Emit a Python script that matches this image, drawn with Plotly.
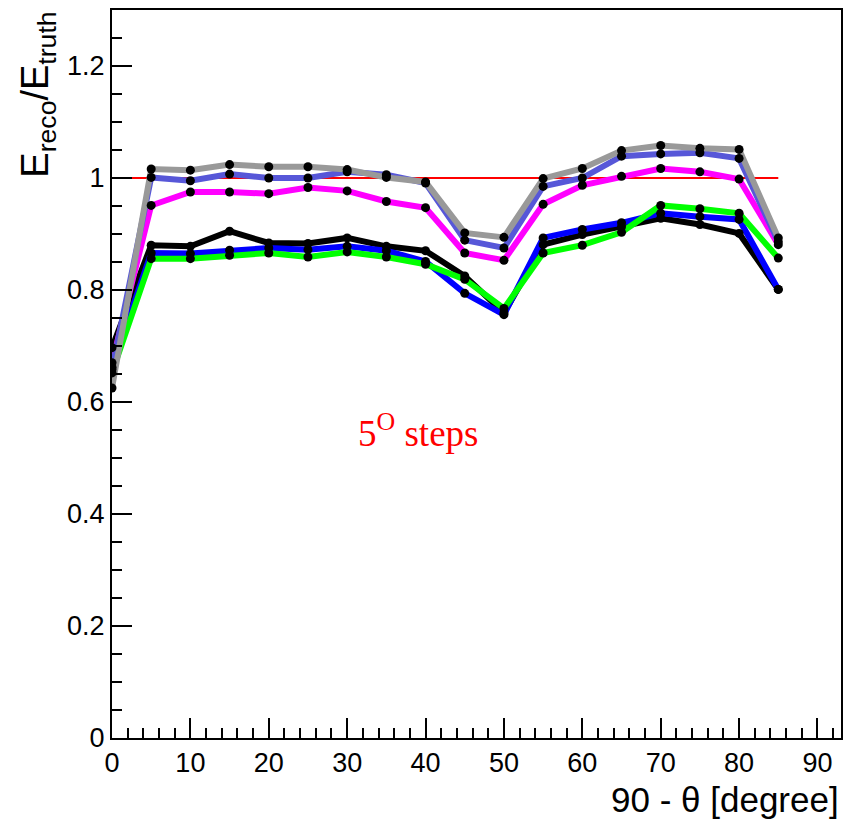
import plotly.graph_objects as go

angles = [0, 5, 10, 15, 20, 25, 30, 35, 40, 45, 50, 55, 60, 65, 70, 75, 80, 85]

gray_vals = [0.625, 1.016, 1.014, 1.024, 1.020, 1.020, 1.015, 1.001, 0.993, 0.902, 0.894, 0.999, 1.017, 1.049, 1.058, 1.053, 1.051, 0.893]
slate_vals = [0.658, 1.001, 0.995, 1.007, 1.000, 1.000, 1.011, 1.006, 0.991, 0.889, 0.875, 0.985, 1.000, 1.039, 1.043, 1.045, 1.035, 0.886]
magenta_vals = [0.670, 0.951, 0.975, 0.975, 0.972, 0.983, 0.977, 0.958, 0.947, 0.866, 0.853, 0.953, 0.987, 1.003, 1.017, 1.011, 0.998, 0.881]
black_vals = [0.697, 0.880, 0.878, 0.905, 0.884, 0.883, 0.893, 0.878, 0.870, 0.825, 0.759, 0.881, 0.899, 0.913, 0.928, 0.917, 0.901, 0.801]
blue_vals = [0.662, 0.866, 0.865, 0.871, 0.875, 0.872, 0.878, 0.870, 0.851, 0.794, 0.756, 0.893, 0.908, 0.920, 0.937, 0.931, 0.926, 0.801]
green_vals = [0.652, 0.856, 0.856, 0.862, 0.866, 0.859, 0.868, 0.859, 0.846, 0.819, 0.767, 0.866, 0.880, 0.903, 0.951, 0.945, 0.937, 0.857]

ref_x = [0, 85]
ref_y = [1.0, 1.0]

series = [
    ("black", black_vals, "#000000"),
    ("blue", blue_vals, "#0000ff"),
    ("green", green_vals, "#00ff00"),
    ("magenta", magenta_vals, "#ff00ff"),
    ("slate", slate_vals, "#5757d8"),
    ("gray", gray_vals, "#999999"),
]

fig = go.Figure()
fig.add_trace(go.Scatter(x=ref_x, y=ref_y, mode="lines",
                         line=dict(color="#ff0000", width=2), showlegend=False))
for name, vals, col in series:
    fig.add_trace(go.Scatter(x=angles, y=vals, mode="lines", name=name,
                             line=dict(color=col, width=6), showlegend=False))
for name, vals, col in series:
    fig.add_trace(go.Scatter(x=angles, y=vals, mode="markers",
                             marker=dict(color="black", size=9), showlegend=False))

axis_font = dict(family="Liberation Sans, Arial, sans-serif", size=27, color="black")

fig.update_layout(
    width=859, height=823,
    margin=dict(l=112, r=18, t=8, b=85),
    paper_bgcolor="white", plot_bgcolor="white",
    font=dict(family="Liberation Sans, Arial, sans-serif", color="black"),
    xaxis=dict(range=[0, 93], dtick=10, tick0=0, showgrid=False, zeroline=False,
               showline=True, linecolor="black", linewidth=2, mirror=True,
               ticks="inside", ticklen=20, tickwidth=2, tickcolor="black",
               tickfont=axis_font,
               minor=dict(dtick=2, ticks="inside", ticklen=10, tickwidth=2, tickcolor="black", showgrid=False)),
    yaxis=dict(range=[0, 1.3], dtick=0.2, tick0=0, showgrid=False, zeroline=False,
               showline=True, linecolor="black", linewidth=2, mirror=True,
               ticks="inside", ticklen=20, tickwidth=2, tickcolor="black",
               tickfont=axis_font,
               minor=dict(dtick=0.05, ticks="inside", ticklen=10, tickwidth=2, tickcolor="black", showgrid=False)),
    annotations=[
        dict(text="E<sub>reco</sub>/E<sub>truth</sub>", xref="paper", yref="paper",
             x=-0.102, y=1.0, xanchor="center", yanchor="top", textangle=-90,
             showarrow=False, font=dict(family="Liberation Sans, Arial, sans-serif", size=38, color="black")),
        dict(text="90 - θ [degree]", xref="paper", yref="paper",
             x=1.0, y=-0.085, xanchor="right", yanchor="middle",
             showarrow=False, font=dict(family="Liberation Sans, Arial, sans-serif", size=35, color="black")),
        dict(text="5<sup>O</sup> steps", xref="x", yref="y",
             x=39, y=0.55, xanchor="center", yanchor="middle",
             showarrow=False, font=dict(family="Liberation Serif, Times New Roman, serif", size=37, color="#ff0000")),
    ],
)

fig.write_html("out.html")
